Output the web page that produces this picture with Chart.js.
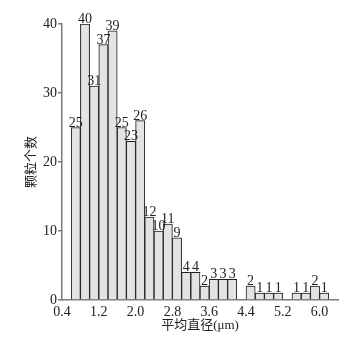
<!DOCTYPE html>
<html>
<head>
<meta charset="utf-8">
<script src="https://cdn.jsdelivr.net/npm/chart.js@4"></script>
<style>
    body { margin: 0; background: #fff; }
</style>
</head>
<body>
<canvas id="myChart" width="357" height="340"></canvas>
<script>
    // bin centres (µm), each bin 0.2 wide
    const binCenters = [0.7, 0.9, 1.1, 1.3, 1.5, 1.7, 1.9, 2.1, 2.3, 2.5, 2.7, 2.9, 3.1, 3.3,
        3.5, 3.7, 3.9, 4.1, 4.3, 4.5, 4.7, 4.9, 5.1, 5.3, 5.5, 5.7, 5.9, 6.1];
    const counts = [25, 40, 31, 37, 39, 25, 23, 26, 12, 10, 11, 9, 4, 4,
        2, 3, 3, 3, 0, 2, 1, 1, 1, 0, 1, 1, 2, 1];
    const xTicks = [0.4, 1.2, 2.0, 2.8, 3.6, 4.4, 5.2, 6.0];
    const yTicks = [0, 10, 20, 30, 40];

    const serif = '"Liberation Serif", "Noto Sans CJK SC", serif';
    const textColor = '#222';
    const axisColor = '#7a7a7a';

    const barLabels = {
        id: 'barLabels',
        afterDatasetsDraw(chart) {
            let ctx = chart.ctx;
            ctx.save();
            ctx.font = '14px ' + serif;
            ctx.fillStyle = textColor;
            ctx.textAlign = 'center';
            ctx.textBaseline = 'alphabetic';
            chart.getDatasetMeta(0).data.forEach((bar, i) => {
                if (counts[i] > 0) {
                    ctx.fillText(String(counts[i]), bar.x, bar.y - 1);
                }
            });
            ctx.restore();
        }
    };

    new Chart(document.getElementById('myChart'), {
        type: 'bar',
        data: {
            datasets: [{
                data: binCenters.map((x, i) => ({x: x, y: counts[i]})),
                backgroundColor: '#e3e3e3',
                borderColor: '#1e1e1e',
                borderWidth: 1,
                barPercentage: 1,
                categoryPercentage: 1,
            }]
        },
        options: {
            responsive: false,
            animation: false,
            layout: {
                padding: {top: 24, right: 19, left: 0, bottom: 0}
            },
            plugins: {
                legend: {display: false},
                tooltip: {enabled: false},
            },
            scales: {
                x: {
                    type: 'linear',
                    offset: false,
                    min: 0.4,
                    max: 6.4,
                    afterBuildTicks: s => { s.ticks = xTicks.map(v => ({value: v})); },
                    afterFit: s => { s.height = 40; },
                    grid: {display: false, drawTicks: false, offset: false},
                    border: {color: axisColor, width: 1.5},
                    ticks: {
                        padding: 4,
                        color: textColor,
                        font: {family: serif, size: 14},
                        maxRotation: 0,
                        callback: v => v.toFixed(1),
                    },
                    title: {
                        display: true,
                        text: '平均直径(μm)',
                        color: textColor,
                        font: {family: serif, size: 13},
                        padding: {top: 0, bottom: 7},
                    }
                },
                y: {
                    min: 0,
                    max: 40,
                    afterBuildTicks: s => { s.ticks = yTicks.map(v => ({value: v})); },
                    afterFit: s => { s.width = 62; },
                    grid: {drawOnChartArea: false, tickLength: 4, color: axisColor, lineWidth: 1.5},
                    border: {color: axisColor, width: 1.5},
                    ticks: {
                        padding: 1,
                        color: textColor,
                        font: {family: serif, size: 14},
                    },
                    title: {
                        display: true,
                        text: '颗粒个数',
                        color: textColor,
                        font: {family: serif, size: 13},
                        padding: {top: 24, bottom: 0},
                    }
                }
            }
        },
        plugins: [barLabels]
    });
</script>
</body>
</html>
